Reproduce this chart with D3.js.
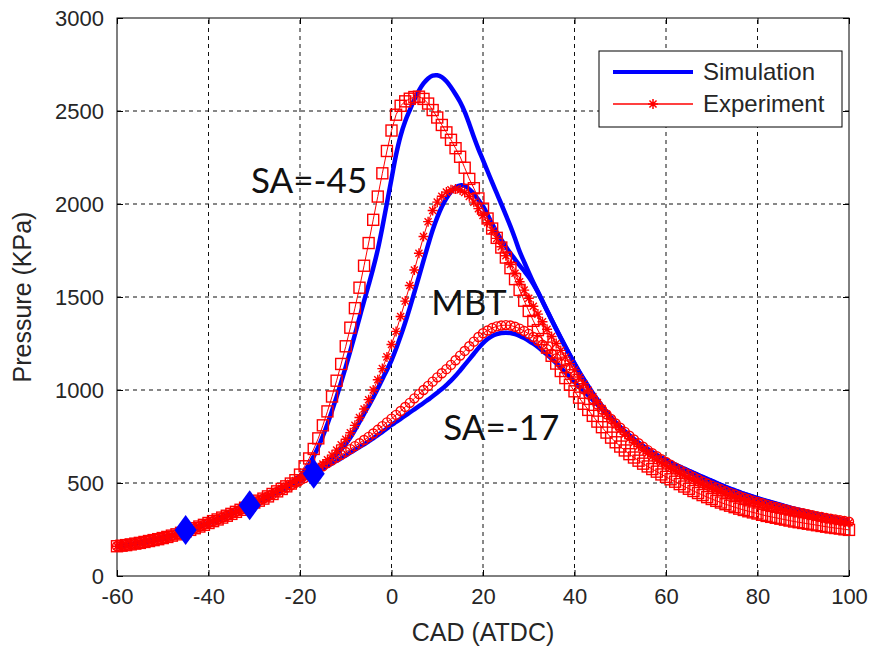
<!DOCTYPE html>
<html>
<head>
<meta charset="utf-8">
<script src="https://cdn.jsdelivr.net/npm/d3@7"></script>
<style>
  body { margin: 0; background: #fff; }
  svg text { font-family: Arial, "Liberation Sans", sans-serif; }
</style>
</head>
<body>
<div id="chart"></div>
<script>
// crank angle, one reading per degree from -60 to 100 ATDC
const cad = d3.range(-60, 101);

// compression part, same for every run (-60 .. -31)
const compression = [160, 163, 166, 170, 174, 178, 183, 188, 193, 198,
  204, 210, 217, 224, 232, 240, 248, 257, 266, 275,
  285, 295, 304, 314, 324, 334, 345, 356, 367, 378];

// simulation, -30 .. 100
const simSA45 = compression.concat([390, 402, 414, 427, 440, 455, 470, 485, 500, 518,
  538, 565, 600, 643, 694, 752, 817, 888, 963, 1042,
  1124, 1210, 1298, 1388, 1478, 1565, 1655, 1755, 1875, 2005,
  2135, 2265, 2368, 2445, 2505, 2562, 2610, 2648, 2675, 2690,
  2692, 2682, 2660, 2628, 2590, 2548, 2495, 2430, 2360, 2295,
  2236, 2176, 2116, 2058, 2000, 1940, 1880, 1815, 1745, 1688,
  1632, 1578, 1528, 1478, 1428, 1378, 1329, 1281, 1234, 1188,
  1143, 1100, 1059, 1020, 983, 948, 915, 883, 853, 825,
  799, 775, 753, 732, 713, 695, 678, 663, 649, 636,
  624, 612, 600, 588, 577, 566, 555, 544, 533, 522,
  512, 501, 490, 480, 470, 461, 452, 443, 435, 427,
  419, 411, 404, 397, 390, 383, 376, 369, 362, 356,
  350, 344, 338, 332, 327, 322, 317, 312, 307, 303, 299]);

const simMBT = compression.concat([391, 403, 415, 427, 439, 452, 465, 479, 493, 508,
  523, 537, 551, 565, 580, 596, 612, 632, 654, 680,
  710, 745, 785, 828, 872, 915, 960, 1008, 1058, 1108,
  1160, 1222, 1290, 1363, 1442, 1525, 1610, 1695, 1780, 1860,
  1928, 1985, 2030, 2065, 2090, 2100, 2097, 2080, 2055, 2022,
  1988, 1942, 1893, 1848, 1808, 1770, 1735, 1702, 1670, 1640,
  1608, 1570, 1526, 1476, 1426, 1376, 1327, 1279, 1232, 1186,
  1141, 1098, 1057, 1018, 981, 946, 913, 881, 851, 823,
  797, 773, 751, 730, 711, 693, 676, 661, 647, 634,
  622, 610, 598, 586, 575, 564, 553, 542, 531, 520,
  510, 499, 488, 478, 468, 459, 450, 441, 433, 425,
  417, 409, 402, 395, 388, 381, 374, 367, 360, 354,
  348, 342, 336, 330, 325, 320, 315, 310, 305, 301, 297]);

const simSA17 = compression.concat([390, 402, 414, 426, 438, 450, 462, 474, 486, 499,
  512, 524, 537, 550, 563, 577, 591, 605, 619, 633,
  648, 663, 678, 693, 708, 724, 740, 757, 775, 793,
  812, 828, 845, 862, 879, 896, 913, 930, 948, 966,
  985, 1005, 1027, 1050, 1076, 1105, 1135, 1165, 1195, 1225,
  1252, 1274, 1290, 1300, 1306, 1308, 1306, 1300, 1291, 1279,
  1265, 1249, 1231, 1211, 1190, 1168, 1145, 1120, 1095, 1069,
  1044, 1019, 995, 971, 947, 921, 896, 872, 848, 824,
  800, 778, 757, 737, 718, 700, 683, 666, 650, 635,
  620, 606, 593, 580, 568, 556, 544, 532, 521, 510,
  500, 489, 479, 470, 461, 452, 443, 435, 427, 419,
  411, 404, 397, 390, 383, 376, 369, 363, 357, 351,
  345, 339, 333, 328, 323, 318, 313, 308, 303, 298, 294]);

// experiment, -30 .. 100
const expSA45 = compression.concat([395, 405, 416, 428, 441, 455, 468, 482, 497, 515,
  545, 590, 632, 683, 740, 810, 885, 965, 1050, 1140,
  1235, 1335, 1440, 1550, 1668, 1790, 1915, 2040, 2165, 2285,
  2395, 2480, 2528, 2552, 2566, 2575, 2577, 2565, 2540, 2505,
  2465, 2425, 2385, 2345, 2300, 2254, 2195, 2135, 2085, 2030,
  1975, 1922, 1868, 1818, 1766, 1712, 1655, 1596, 1538, 1480,
  1425, 1372, 1322, 1274, 1228, 1184, 1142, 1102, 1064, 1028,
  993, 959, 926, 893, 861, 830, 800, 771, 744, 719,
  696, 675, 655, 637, 620, 604, 589, 575, 561, 546,
  533, 520, 507, 494, 481, 469, 457, 446, 435, 424,
  414, 404, 395, 386, 378, 370, 362, 355, 348, 342,
  336, 329, 323, 318, 313, 308, 303, 298, 293, 289,
  285, 281, 277, 273, 269, 265, 261, 258, 255, 251, 248]);

const expMBT = compression.concat([393, 405, 417, 430, 443, 456, 470, 484, 498, 513,
  527, 540, 552, 565, 582, 602, 625, 650, 677, 705,
  735, 770, 810, 852, 898, 948, 1000, 1055, 1115, 1178,
  1245, 1315, 1395, 1478, 1562, 1645, 1735, 1825, 1905, 1965,
  2010, 2042, 2064, 2076, 2080, 2075, 2062, 2040, 2010, 1975,
  1938, 1900, 1858, 1815, 1770, 1722, 1675, 1628, 1582, 1537,
  1493, 1450, 1408, 1367, 1327, 1288, 1250, 1213, 1177, 1142,
  1108, 1070, 1034, 999, 965, 932, 900, 869, 840, 812,
  786, 762, 739, 717, 697, 678, 660, 643, 626, 610,
  595, 581, 567, 554, 541, 529, 517, 506, 495, 484,
  474, 464, 455, 446, 437, 429, 421, 413, 405, 398,
  391, 384, 377, 371, 365, 359, 353, 347, 341, 336,
  331, 326, 321, 316, 311, 306, 302, 298, 294, 290, 286]);

const expSA17 = compression.concat([392, 404, 416, 428, 440, 452, 464, 476, 488, 501,
  514, 527, 540, 555, 572, 590, 607, 622, 637, 652,
  667, 682, 698, 714, 731, 748, 766, 786, 806, 826,
  846, 866, 887, 909, 931, 955, 978, 1000, 1022, 1045,
  1068, 1090, 1112, 1135, 1160, 1185, 1210, 1235, 1260, 1285,
  1305, 1320, 1333, 1342, 1347, 1349, 1347, 1340, 1330, 1317,
  1302, 1285, 1265, 1243, 1220, 1195, 1170, 1143, 1116, 1088,
  1060, 1032, 1004, 977, 951, 922, 895, 869, 844, 820,
  797, 775, 754, 734, 714, 695, 677, 660, 644, 628,
  613, 598, 584, 570, 557, 544, 532, 520, 508, 497,
  486, 476, 466, 456, 447, 438, 429, 421, 413, 405,
  398, 391, 384, 377, 371, 365, 359, 353, 347, 342,
  337, 332, 327, 322, 317, 312, 308, 304, 300, 296, 292]);

// spark timing markers
const sparkCAD = [-45, -31, -17];
const sparkP = [247, 381, 550];

const xTicks = [-60, -40, -20, 0, 20, 40, 60, 80, 100];
const yTicks = [0, 500, 1000, 1500, 2000, 2500, 3000];
const legendLabels = ["Simulation", "Experiment"];
const runLabels = ["SA=-45", "MBT", "SA=-17"];

// ----------------------------------------------------------------
const width = 872, height = 646;
const margin = { top: 18, right: 23, bottom: 70, left: 117 };

const svg = d3.select("#chart").append("svg")
    .attr("width", width)
    .attr("height", height);

const x = d3.scaleLinear().domain([-60, 100]).range([margin.left, width - margin.right]);
const y = d3.scaleLinear().domain([0, 3000]).range([height - margin.bottom, margin.top]);

const blue = "#0000ff", red = "#ff0000";
const plain = d => String(d);   // plain hyphen, no thousands comma

// grid
svg.append("g")
    .selectAll("line")
    .data(xTicks.slice(1, -1))
    .enter().append("line")
    .attr("x1", d => x(d)).attr("x2", d => x(d))
    .attr("y1", y(0)).attr("y2", y(3000))
    .attr("stroke", "#111").attr("stroke-dasharray", "4,4");
svg.append("g")
    .selectAll("line")
    .data(yTicks.slice(1, -1))
    .enter().append("line")
    .attr("x1", x(-60)).attr("x2", x(100))
    .attr("y1", d => y(d)).attr("y2", d => y(d))
    .attr("stroke", "#111").attr("stroke-dasharray", "4,4");

// axes with ticks on the inside
let xAxis = svg.append("g")
    .attr("transform", `translate(0,${y(0)})`)
    .call(d3.axisBottom(x).tickValues(xTicks).tickFormat(plain).tickSize(-6).tickPadding(12));
let yAxis = svg.append("g")
    .attr("transform", `translate(${x(-60)},0)`)
    .call(d3.axisLeft(y).tickValues(yTicks).tickFormat(plain).tickSize(-6).tickPadding(13));
svg.append("g")
    .attr("transform", `translate(0,${y(3000)})`)
    .call(d3.axisTop(x).tickValues(xTicks).tickSize(-6).tickFormat(""));
svg.append("g")
    .attr("transform", `translate(${x(100)},0)`)
    .call(d3.axisRight(y).tickValues(yTicks).tickSize(-6).tickFormat(""));

svg.selectAll(".domain").remove();
svg.selectAll(".tick line").attr("stroke", "#000");
[xAxis, yAxis].forEach(a => a.selectAll("text")
    .style("font-size", "22px")
    .attr("fill", "#262626"));

svg.append("rect")
    .attr("x", x(-60)).attr("y", y(3000))
    .attr("width", x(100) - x(-60)).attr("height", y(0) - y(3000))
    .attr("fill", "none").attr("stroke", "#000");

// axis titles
svg.append("text")
    .attr("x", (x(-60) + x(100)) / 2)
    .attr("y", 641)
    .attr("text-anchor", "middle")
    .attr("fill", "#262626")
    .style("font-size", "25px")
    .text("CAD (ATDC)");
svg.append("text")
    .attr("transform", `translate(31,${(y(0) + y(3000)) / 2}) rotate(-90)`)
    .attr("text-anchor", "middle")
    .attr("fill", "#262626")
    .style("font-size", "25px")
    .text("Pressure (KPa)");

// simulation curves
const line = d3.line()
    .x((d, i) => x(cad[i]))
    .y(d => y(d))
    .curve(d3.curveCatmullRom);

[simSA45, simMBT, simSA17].forEach(s => {
    svg.append("path")
        .attr("d", line(s))
        .attr("fill", "none")
        .attr("stroke", blue)
        .attr("stroke-width", 4.5)
        .attr("stroke-linejoin", "round");
});

// experiment markers
function asterisk(cx, cy, r) {
    let k = r * 0.7071;
    return `M${cx - r},${cy}H${cx + r}M${cx},${cy - r}V${cy + r}` +
        `M${cx - k},${cy - k}L${cx + k},${cy + k}M${cx - k},${cy + k}L${cx + k},${cy - k}`;
}

function drawExp(values, shape) {
    let g = svg.append("g");
    g.append("path")
        .attr("d", d3.line().x((d, i) => x(cad[i])).y(d => y(d))(values))
        .attr("fill", "none")
        .attr("stroke", red)
        .attr("stroke-width", 1);
    let pts = values.map((p, i) => [x(cad[i]), y(p)]);
    if (shape === "square") {
        g.selectAll("rect").data(pts).enter().append("rect")
            .attr("x", d => d[0] - 5.5).attr("y", d => d[1] - 5.5)
            .attr("width", 11).attr("height", 11)
            .attr("fill", "none").attr("stroke", red).attr("stroke-width", 1.4);
    } else if (shape === "circle") {
        g.selectAll("circle").data(pts).enter().append("circle")
            .attr("cx", d => d[0]).attr("cy", d => d[1]).attr("r", 4.5)
            .attr("fill", "none").attr("stroke", red).attr("stroke-width", 1.4);
    } else {
        g.selectAll(".ast").data(pts).enter().append("path")
            .attr("class", "ast")
            .attr("d", d => asterisk(d[0], d[1], 5))
            .attr("fill", "none").attr("stroke", red).attr("stroke-width", 1.4);
    }
}

drawExp(expSA17, "circle");
drawExp(expMBT, "asterisk");
drawExp(expSA45, "square");

// spark diamonds
svg.append("g")
    .selectAll("path")
    .data(sparkCAD)
    .enter().append("path")
    .attr("transform", (d, i) => `translate(${x(d)},${y(sparkP[i])})`)
    .attr("d", "M0,-15L11,0L0,15L-11,0Z")
    .attr("fill", blue);

// run labels
const labelAt = [[-30.7, 2059], [8.7, 1403], [11.3, 731]];
svg.append("g")
    .selectAll("text")
    .data(runLabels)
    .enter().append("text")
    .attr("x", (d, i) => x(labelAt[i][0]))
    .attr("y", (d, i) => y(labelAt[i][1]))
    .attr("fill", "#111")
    .style("font-family", "Lato, 'Open Sans', sans-serif")
    .style("font-size", "35px")
    .text(d => d);

// legend
let lg = svg.append("g");
lg.append("rect")
    .attr("x", 599).attr("y", 51).attr("width", 243).attr("height", 76)
    .attr("fill", "#fff").attr("stroke", "#000");
lg.append("line")
    .attr("x1", 613).attr("x2", 693).attr("y1", 72).attr("y2", 72)
    .attr("stroke", blue).attr("stroke-width", 4);
lg.append("line")
    .attr("x1", 613).attr("x2", 693).attr("y1", 104).attr("y2", 104)
    .attr("stroke", red).attr("stroke-width", 1.5);
lg.append("path")
    .attr("d", asterisk(653, 104, 5))
    .attr("fill", "none").attr("stroke", red).attr("stroke-width", 1.5);
lg.selectAll("text")
    .data(legendLabels)
    .enter().append("text")
    .attr("x", 703)
    .attr("y", (d, i) => 80 + i * 32)
    .attr("fill", "#262626")
    .style("font-size", "24px")
    .text(d => d);
</script>
</body>
</html>
